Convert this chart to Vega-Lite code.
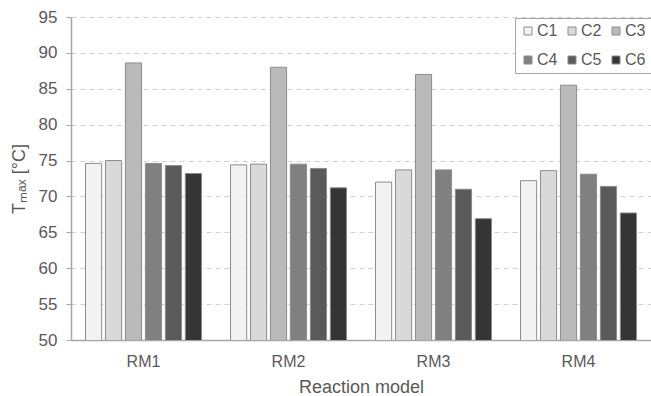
{
  "$schema": "https://vega.github.io/schema/vega-lite/v6.json",
  "width": 580,
  "height": 323,
  "autosize": {"type": "none"},
  "padding": {"left": 71, "top": 17, "right": 0, "bottom": 56},
  "background": "white",
  "config": {
    "font": "Liberation Sans",
    "view": {"stroke": null}
  },
  "data": {
    "values": [
      {"model": "RM1", "case": "C1", "tmax": 74.6},
      {"model": "RM1", "case": "C2", "tmax": 75.0},
      {"model": "RM1", "case": "C3", "tmax": 88.6},
      {"model": "RM1", "case": "C4", "tmax": 74.6},
      {"model": "RM1", "case": "C5", "tmax": 74.3},
      {"model": "RM1", "case": "C6", "tmax": 73.2},
      {"model": "RM2", "case": "C1", "tmax": 74.4},
      {"model": "RM2", "case": "C2", "tmax": 74.5},
      {"model": "RM2", "case": "C3", "tmax": 88.0},
      {"model": "RM2", "case": "C4", "tmax": 74.5},
      {"model": "RM2", "case": "C5", "tmax": 73.9},
      {"model": "RM2", "case": "C6", "tmax": 71.2},
      {"model": "RM3", "case": "C1", "tmax": 72.0},
      {"model": "RM3", "case": "C2", "tmax": 73.7},
      {"model": "RM3", "case": "C3", "tmax": 87.0},
      {"model": "RM3", "case": "C4", "tmax": 73.7},
      {"model": "RM3", "case": "C5", "tmax": 71.0},
      {"model": "RM3", "case": "C6", "tmax": 66.9},
      {"model": "RM4", "case": "C1", "tmax": 72.2},
      {"model": "RM4", "case": "C2", "tmax": 73.6},
      {"model": "RM4", "case": "C3", "tmax": 85.5},
      {"model": "RM4", "case": "C4", "tmax": 73.1},
      {"model": "RM4", "case": "C5", "tmax": 71.4},
      {"model": "RM4", "case": "C6", "tmax": 67.7}
    ]
  },
  "mark": {"type": "bar", "stroke": "#8c8c8c", "strokeWidth": 1, "clip": true},
  "encoding": {
    "x": {
      "field": "model",
      "type": "nominal",
      "scale": {"paddingInner": 0.2, "paddingOuter": 0.1},
      "axis": {
        "title": "Reaction model",
        "titleFontSize": 18,
        "titleFontWeight": "normal",
        "titleColor": "#595959",
        "titlePadding": 9,
        "labelAngle": 0,
        "labelFontSize": 16,
        "labelColor": "#595959",
        "labelPadding": 13,
        "ticks": false,
        "domainColor": "#a6a6a6",
        "domainWidth": 1.5
      }
    },
    "xOffset": {
      "field": "case",
      "type": "nominal",
      "scale": {"paddingInner": 0.19, "paddingOuter": 0.0}
    },
    "y": {
      "field": "tmax",
      "type": "quantitative",
      "scale": {"domain": [50, 95], "zero": false, "nice": false},
      "axis": {
        "title": "Tₘₐₓ [°C]",
        "titleFontSize": 18,
        "titleFontWeight": "normal",
        "titleColor": "#595959",
        "titlePadding": 10,
        "values": [50, 55, 60, 65, 70, 75, 80, 85, 90, 95],
        "labelFontSize": 17,
        "labelColor": "#595959",
        "labelPadding": 9,
        "tickSize": 5,
        "tickColor": "#a6a6a6",
        "domainColor": "#a6a6a6",
        "domainWidth": 1.5,
        "grid": true,
        "gridColor": "#d0d0d0",
        "gridDash": [5, 4],
        "gridWidth": 1
      }
    },
    "fill": {
      "field": "case",
      "type": "nominal",
      "scale": {
        "domain": ["C1", "C2", "C3", "C4", "C5", "C6"],
        "range": ["#f2f2f2", "#d9d9d9", "#bababa", "#808080", "#5a5a5a", "#353535"]
      },
      "legend": {
        "title": null,
        "orient": "none",
        "legendX": 444,
        "legendY": 1,
        "columns": 3,
        "direction": "horizontal",
        "symbolType": "square",
        "symbolSize": 64,
        "symbolStrokeColor": "#8c8c8c",
        "symbolStrokeWidth": 1,
        "labelFontSize": 16,
        "labelColor": "#595959",
        "labelOffset": 1,
        "columnPadding": 6,
        "rowPadding": 13,
        "padding": 5,
        "strokeColor": "#a6a6a6",
        "fillColor": "white"
      }
    }
  }
}
